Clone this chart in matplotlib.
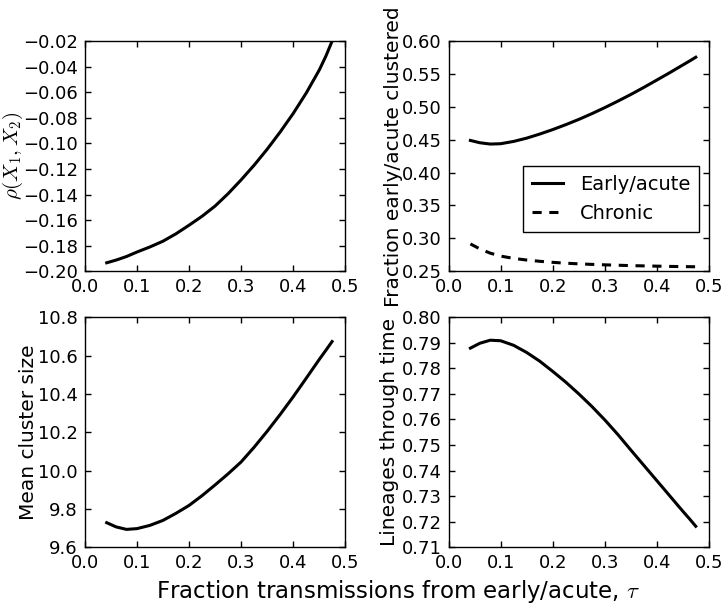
import matplotlib
matplotlib.use("Agg")
import matplotlib.pyplot as plt

plt.rcParams['mathtext.fontset'] = 'cm'
plt.rcParams['font.family'] = 'DejaVu Sans'

# fraction of transmissions from early/acute (tau)
tau = [0.042, 0.06, 0.08, 0.1, 0.125, 0.15, 0.175, 0.2, 0.225, 0.25, 0.275, 0.3,
       0.325, 0.35, 0.375, 0.4, 0.425, 0.45, 0.4625, 0.4745]

rho = [-0.1934, -0.1913, -0.1885, -0.1850, -0.1810, -0.1765, -0.1707, -0.1640,
       -0.1570, -0.1490, -0.1393, -0.1285, -0.1170, -0.1045, -0.0910, -0.0765,
       -0.0605, -0.0425, -0.0318, -0.0200]

frac_early = [0.449, 0.4455, 0.4435, 0.4440, 0.4475, 0.4525, 0.4587, 0.4655,
              0.4730, 0.4810, 0.4897, 0.4990, 0.5088, 0.5190, 0.5298, 0.5410,
              0.5523, 0.5640, 0.5698, 0.5756]
frac_chronic = [0.2915, 0.2840, 0.2775, 0.2730, 0.2695, 0.2670, 0.2651, 0.2635,
                0.2622, 0.2612, 0.2604, 0.2597, 0.2591, 0.2585, 0.2581, 0.2577,
                0.2573, 0.2570, 0.2569, 0.2568]

mean_size = [9.728, 9.706, 9.693, 9.697, 9.714, 9.740, 9.777, 9.818, 9.869,
             9.925, 9.983, 10.045, 10.122, 10.205, 10.293, 10.385, 10.482,
             10.580, 10.627, 10.673]

ltt = [0.7879, 0.7898, 0.7910, 0.7908, 0.7890, 0.7862, 0.7828, 0.7788, 0.7746,
       0.7700, 0.7651, 0.7598, 0.7541, 0.7480, 0.7420, 0.7360, 0.7300, 0.7240,
       0.7211, 0.7182]

xticks = [0.0, 0.1, 0.2, 0.3, 0.4, 0.5]

fig = plt.figure(figsize=(7.25, 6.06), dpi=100)
fig.subplots_adjust(left=0.117, right=0.978, top=0.932, bottom=0.097,
                    wspace=0.396, hspace=0.2)

def style(ax, yticks, ylabel, xpos, size=14.5):
    ax.set_xlim(0, 0.5)
    ax.set_xticks(xticks)
    ax.set_ylim(yticks[0], yticks[-1])
    ax.set_yticks(yticks)
    ax.tick_params(direction='in', top=True, right=True, length=4,
                   width=1, labelsize=13, pad=5)
    for s in ax.spines.values():
        s.set_linewidth(1)
    ax.set_ylabel(ylabel, fontsize=size)
    ax.yaxis.set_label_coords(xpos, 0.5)

# rho(X1, X2)
ax1 = fig.add_subplot(2, 2, 1)
ax1.plot(tau, rho, color='black', lw=2.2)
style(ax1, [-0.20, -0.18, -0.16, -0.14, -0.12, -0.10, -0.08, -0.06, -0.04, -0.02],
      r'$\rho(X_1,X_2)$', -0.231, size=15)

# fraction clustered
ax2 = fig.add_subplot(2, 2, 2)
ax2.plot(tau, frac_early, color='black', lw=2.2, label='Early/acute')
ax2.plot(tau, frac_chronic, color='black', lw=2.2, dashes=(3, 2.5), label='Chronic')
style(ax2, [0.25, 0.30, 0.35, 0.40, 0.45, 0.50, 0.55, 0.60],
      'Fraction early/acute clustered', -0.176)
leg = ax2.legend(loc='center right', bbox_to_anchor=(1.0, 0.314), fontsize=14,
                 fancybox=False, framealpha=1, edgecolor='black',
                 handlelength=1.6, handletextpad=0.9, borderpad=0.45)
leg.get_frame().set_linewidth(1)

# mean cluster size
ax3 = fig.add_subplot(2, 2, 3)
ax3.plot(tau, mean_size, color='black', lw=2.2)
style(ax3, [9.6, 9.8, 10.0, 10.2, 10.4, 10.6, 10.8], 'Mean cluster size', -0.181)

# lineages through time
ax4 = fig.add_subplot(2, 2, 4)
ax4.plot(tau, ltt, color='black', lw=2.2)
style(ax4, [0.71, 0.72, 0.73, 0.74, 0.75, 0.76, 0.77, 0.78, 0.79, 0.80],
      'Lineages through time', -0.19)

fig.text(0.549, 0.0132, r'Fraction transmissions from early/acute, $\tau$',
         ha='center', va='baseline', fontsize=16.5)

fig.savefig('out.png', dpi=100)
